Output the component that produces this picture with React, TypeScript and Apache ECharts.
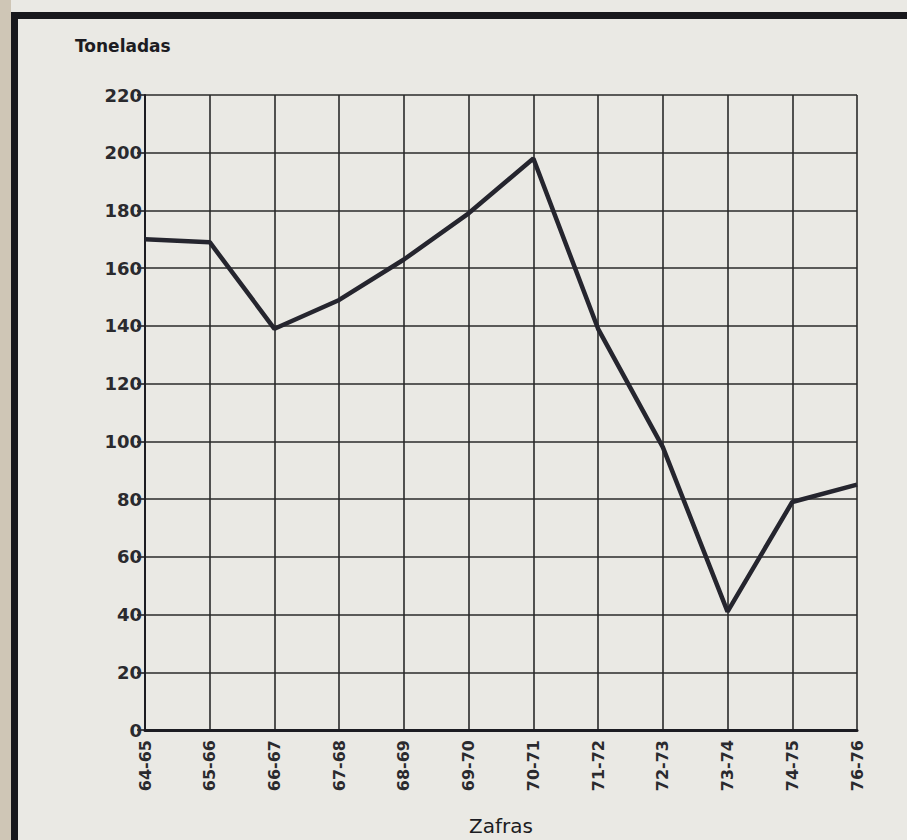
import React, { useEffect, useRef } from "react";
import * as echarts from "echarts";

const categories = ["64-65", "65-66", "66-67", "67-68", "68-69", "69-70", "70-71", "71-72", "72-73", "73-74", "74-75", "76-76"];
const toneladas = [170, 169, 139, 149, 163, 179, 198, 139, 98, 41, 79, 85];
const yTicks = { min: 0, max: 220, interval: 20 };

export default function App() {
  const ref = useRef<HTMLDivElement>(null);
  useEffect(() => {
    if (!ref.current) return;
    const chart = echarts.init(ref.current, undefined, { renderer: "svg" });
    const ink = "#1c1c22";
    chart.setOption({
      animation: false,
      backgroundColor: "#eae9e4",
      grid: { left: 145, right: 50, top: 95, bottom: 110, containLabel: false, outerBoundsMode: "none" },
      xAxis: {
        type: "category",
        data: categories,
        boundaryGap: false,
        name: "Zafras",
        nameLocation: "middle",
        nameGap: 86,
        nameTextStyle: { fontFamily: "DejaVu Sans", fontSize: 20, color: ink, verticalAlign: "top" },
        axisLine: { show: true, lineStyle: { color: ink, width: 3 } },
        axisTick: { show: false },
        axisLabel: { rotate: 90, margin: 10, fontFamily: "DejaVu Sans", fontWeight: "bold", fontSize: 16, color: "#2a2a2e" },
        splitLine: { show: true, lineStyle: { color: "#2a2a2a", width: 1.6 } },
      },
      yAxis: {
        type: "value",
        min: yTicks.min,
        max: yTicks.max,
        interval: yTicks.interval,
        axisLine: { show: true, lineStyle: { color: ink, width: 2 } },
        axisTick: { show: true, inside: false, length: 8, lineStyle: { color: ink, width: 1.6 } },
        axisLabel: { margin: 3, fontFamily: "DejaVu Sans", fontWeight: "bold", fontSize: 18, color: "#2a2a2e" },
        splitLine: { show: true, lineStyle: { color: "#2a2a2a", width: 1.6 } },
      },
      series: [
        {
          type: "line",
          data: toneladas,
          symbol: "none",
          lineStyle: { color: "#25252e", width: 4.5 },
          z: 5,
        },
      ],
      graphic: [
        { type: "rect", shape: { x: 0, y: 0, width: 11, height: 840 }, style: { fill: "#cfc6b6" }, silent: true },
        { type: "rect", shape: { x: 11, y: 12, width: 896, height: 7 }, style: { fill: "#18181c" }, silent: true },
        { type: "rect", shape: { x: 11, y: 12, width: 7, height: 828 }, style: { fill: "#18181c" }, silent: true },
        {
          type: "text",
          left: 75,
          top: 37,
          style: { text: "Toneladas", fontFamily: "DejaVu Sans", fontWeight: "bold", fontSize: 17, fill: ink },
        },
      ],
    });
    return () => chart.dispose();
  }, []);
  return <div ref={ref} style={{ position: "fixed", left: 0, top: 0, width: 907, height: 840 }} />;
}
